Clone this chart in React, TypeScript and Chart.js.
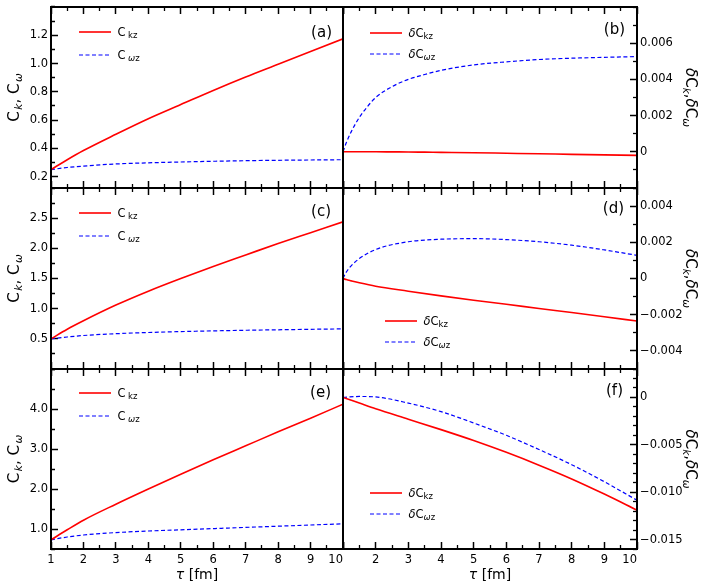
import React, { useEffect, useRef } from "react";
import { Chart, registerables } from "chart.js";
Chart.register(...registerables);

// ---------------- data ----------------
const TAU = [1, 1.5, 2, 3, 4, 5, 6, 7, 8, 9, 10];
const TAU_B = [1, 1.1, 1.25, 1.5, 1.75, 2, 2.5, 3, 3.5, 4, 5, 6, 7, 8, 9, 10];
const TAU_D = [1, 1.1, 1.25, 1.5, 2, 3, 4, 5, 6, 7, 8, 9, 10];

const A_CKZ = [0.25, 0.32, 0.385, 0.5, 0.61, 0.71, 0.81, 0.905, 0.995, 1.085, 1.175];
const A_CWZ = [0.25, 0.265, 0.275, 0.29, 0.298, 0.304, 0.309, 0.313, 0.316, 0.318, 0.32];

const B_DCKZ = [0, 0, 0, 0, 0, 0, -0.000005, -0.00001, -0.00002, -0.00003, -0.00005, -0.00008, -0.00011, -0.00014, -0.00017, -0.0002];
const B_DCWZ = [0, 0.0005, 0.0011, 0.0019, 0.0025, 0.003, 0.0036, 0.004, 0.00427, 0.0045, 0.0048, 0.00497, 0.0051, 0.00517, 0.00522, 0.00526];

const C_CKZ = [0.5, 0.66, 0.8, 1.06, 1.29, 1.5, 1.7, 1.89, 2.08, 2.26, 2.44];
const C_CWZ = [0.5, 0.53, 0.555, 0.585, 0.605, 0.62, 0.632, 0.642, 0.65, 0.658, 0.665];

const D_DCKZ = [0, -0.00006, -0.00013, -0.00024, -0.00043, -0.0007, -0.00096, -0.0012, -0.00142, -0.00166, -0.00188, -0.00211, -0.00235];
const D_DCWZ = [0, 0.00035, 0.0007, 0.0011, 0.0016, 0.00203, 0.00217, 0.0022, 0.00215, 0.00203, 0.00184, 0.00158, 0.00128];

const E_CKZ = [0.73, 0.98, 1.22, 1.62, 2.0, 2.37, 2.73, 3.08, 3.43, 3.77, 4.12];
const E_CWZ = [0.73, 0.8, 0.85, 0.91, 0.95, 0.98, 1.01, 1.04, 1.07, 1.1, 1.13];

const F_DCKZ = [0, -0.0006, -0.0012, -0.0023, -0.0034, -0.00455, -0.0058, -0.00715, -0.0086, -0.0102, -0.0119];
const F_DCWZ = [0, 0.0001, 0.00005, -0.0006, -0.0015, -0.0027, -0.004, -0.0055, -0.0071, -0.0089, -0.01085];

// ticks
const X_TICKS = [1, 2, 3, 4, 5, 6, 7, 8, 9, 10];
const X_LABELS_LEFT = ["1", "2", "3", "4", "5", "6", "7", "8", "9", "10    "];
const X_LABELS_RIGHT = ["", "2", "3", "4", "5", "6", "7", "8", "9", "10    "];

const A_TICKS = [0.2, 0.4, 0.6, 0.8, 1.0, 1.2];
const A_LABELS = ["0.2", "0.4", "0.6", "0.8", "1.0", "1.2"];
const B_TICKS = [0, 0.002, 0.004, 0.006];
const B_LABELS = ["0", "0.002", "0.004", "0.006"];
const C_TICKS = [0.5, 1.0, 1.5, 2.0, 2.5];
const C_LABELS = ["0.5", "1.0", "1.5", "2.0", "2.5"];
const D_TICKS = [-0.004, -0.002, 0, 0.002, 0.004];
const D_LABELS = ["\u22120.004", "\u22120.002", "0", "0.002", "0.004"];
const E_TICKS = [1, 2, 3, 4];
const E_LABELS = ["1.0", "2.0", "3.0", "4.0"];
const F_TICKS = [-0.015, -0.01, -0.005, 0];
const F_LABELS = ["\u22120.015", "\u22120.010", "\u22120.005", "0"];

// ---------------- layout / style ----------------
const W = 702;
const H = 584;
const XAXIS_H = 25;
const FONT = "'DejaVu Sans', Verdana, sans-serif";
const RED = "#ff0000";
const BLUE = "#0000ff";
const TICK_LEN = -7; // negative: ticks point into the plot
const DASH_MINOR_FROM_EDGE = [4, 100];
const DASH_MINOR_TO_EDGE = [0, 3, 4, 100];

type Seg = { t: string; size: number; italic?: boolean; dy?: number; gap?: number };

type Panel = {
  tag: string;
  side: "left" | "right";
  left: number; right: number; top: number; bottom: number;
  xs: number[]; red: number[]; blue: number[];
  yMin: number; yMax: number; yTicks: number[]; yLabels: string[]; yMinor: number;
  xLabels: string[] | null;
  delta: boolean;
  legend: { x: number; y1: number; y2: number };
  tagPos: { x: number; y: number };
};

const ROWS = [7, 188, 369, 549];
const COLS = [51, 343, 637];

const PANELS: Panel[] = [
  { tag: "(a)", side: "left", left: COLS[0], right: COLS[1], top: ROWS[0], bottom: ROWS[1], xs: TAU, red: A_CKZ, blue: A_CWZ,
    yMin: 0.12, yMax: 1.4, yTicks: A_TICKS, yLabels: A_LABELS, yMinor: 0.1, xLabels: null, delta: false,
    legend: { x: 79, y1: 32, y2: 55 }, tagPos: { x: 332, y: 37 } },
  { tag: "(b)", side: "right", left: COLS[1], right: COLS[2], top: ROWS[0], bottom: ROWS[1], xs: TAU_B, red: B_DCKZ, blue: B_DCWZ,
    yMin: -0.002, yMax: 0.008, yTicks: B_TICKS, yLabels: B_LABELS, yMinor: 0.001, xLabels: null, delta: true,
    legend: { x: 370, y1: 33, y2: 54 }, tagPos: { x: 625, y: 34 } },
  { tag: "(c)", side: "left", left: COLS[0], right: COLS[1], top: ROWS[1], bottom: ROWS[2], xs: TAU, red: C_CKZ, blue: C_CWZ,
    yMin: 0, yMax: 3, yTicks: C_TICKS, yLabels: C_LABELS, yMinor: 0.25, xLabels: null, delta: false,
    legend: { x: 79, y1: 213, y2: 236 }, tagPos: { x: 331, y: 216 } },
  { tag: "(d)", side: "right", left: COLS[1], right: COLS[2], top: ROWS[1], bottom: ROWS[2], xs: TAU_D, red: D_DCKZ, blue: D_DCWZ,
    yMin: -0.005, yMax: 0.005, yTicks: D_TICKS, yLabels: D_LABELS, yMinor: 0.001, xLabels: null, delta: true,
    legend: { x: 385, y1: 321, y2: 342 }, tagPos: { x: 624, y: 213 } },
  { tag: "(e)", side: "left", left: COLS[0], right: COLS[1], top: ROWS[2], bottom: ROWS[3], xs: TAU, red: E_CKZ, blue: E_CWZ,
    yMin: 0.5, yMax: 5, yTicks: E_TICKS, yLabels: E_LABELS, yMinor: 0.5, xLabels: X_LABELS_LEFT, delta: false,
    legend: { x: 79, y1: 393, y2: 416 }, tagPos: { x: 331, y: 397 } },
  { tag: "(f)", side: "right", left: COLS[1], right: COLS[2], top: ROWS[2], bottom: ROWS[3], xs: TAU, red: F_DCKZ, blue: F_DCWZ,
    yMin: -0.016, yMax: 0.003, yTicks: F_TICKS, yLabels: F_LABELS, yMinor: 0.001, xLabels: X_LABELS_RIGHT, delta: true,
    legend: { x: 370, y1: 493, y2: 514 }, tagPos: { x: 623, y: 395 } },
];

function fontOf(s: Seg) {
  return `${s.italic ? "italic " : ""}${s.size}px ${FONT}`;
}

function drawRich(ctx: CanvasRenderingContext2D, segs: Seg[], x: number, y: number, rot: number, align: "left" | "center" | "right") {
  ctx.save();
  ctx.translate(x, y);
  ctx.rotate(rot);
  ctx.textBaseline = "alphabetic";
  ctx.textAlign = "left";
  ctx.fillStyle = "#000";
  let total = 0;
  const ws = segs.map((s) => {
    ctx.font = fontOf(s);
    const w = ctx.measureText(s.t).width + (s.gap || 0);
    total += w;
    return w;
  });
  let cx = align === "left" ? 0 : align === "center" ? -total / 2 : -total;
  segs.forEach((s, i) => {
    ctx.font = fontOf(s);
    ctx.fillText(s.t, cx + (s.gap || 0), s.dy || 0);
    cx += ws[i];
  });
  ctx.restore();
}

function minorValues(min: number, max: number, step: number, majors: number[]) {
  const out: number[] = [];
  const k0 = Math.ceil(min / step - 1e-9);
  const k1 = Math.floor(max / step + 1e-9);
  for (let k = k0; k <= k1; k++) {
    const v = k * step;
    if (!majors.some((m) => Math.abs(m - v) < step * 1e-3)) out.push(v);
  }
  return out;
}

function majorIndex(majors: number[], v: number) {
  return majors.findIndex((m) => Math.abs(m - v) < 1e-9);
}

const X_ALL = [...X_TICKS, ...minorValues(1, 10, 0.5, X_TICKS)].sort((a, b) => a - b);

function legendSegs(delta: boolean, omega: boolean): Seg[] {
  const sub: Seg[] = omega
    ? [{ t: "\u03c9", size: 8.5, italic: true, dy: 1.5, gap: delta ? 0 : 2.5 }, { t: "z", size: 8.5, dy: 1.5 }]
    : [{ t: "kz", size: 8.5, dy: 1.5, gap: delta ? 0 : 2.5 }];
  const head: Seg[] = delta ? [{ t: "\u03b4", size: 11.5, italic: true }, { t: "C", size: 11.5 }] : [{ t: "C", size: 11.5 }];
  return [...head, ...sub];
}

const LEFT_TITLE: Seg[] = [
  { t: "C", size: 15 },
  { t: "k", size: 10.5, italic: true, dy: 3.5, gap: 1.5 },
  { t: ", ", size: 15 },
  { t: "C", size: 15 },
  { t: "\u03c9", size: 10.5, italic: true, dy: 3.5, gap: 1.5 },
];
const RIGHT_TITLE: Seg[] = [
  { t: "\u03b4", size: 15, italic: true },
  { t: "C", size: 15 },
  { t: "k", size: 10.5, italic: true, dy: 3.5 },
  { t: ",", size: 15 },
  { t: "\u03b4", size: 15, italic: true },
  { t: "C", size: 15 },
  { t: "\u03c9", size: 10.5, italic: true, dy: 3.5 },
];
const X_TITLE: Seg[] = [
  { t: "\u03c4", size: 14, italic: true },
  { t: " [fm]", size: 14 },
];

function decor(p: Panel) {
  return {
    id: "panelDecor",
    afterDraw(chart: any) {
      const ctx: CanvasRenderingContext2D = chart.ctx;
      const ca = chart.chartArea;
      ctx.save();
      ctx.setLineDash([]);
      // frame
      ctx.strokeStyle = "#000";
      ctx.lineWidth = 2;
      ctx.strokeRect(ca.left, ca.top, ca.right - ca.left, ca.bottom - ca.top);

      // legend
      const L = p.legend;
      ctx.lineWidth = 1.6;
      ctx.strokeStyle = RED;
      ctx.beginPath();
      ctx.moveTo(L.x, L.y1);
      ctx.lineTo(L.x + 32, L.y1);
      ctx.stroke();
      ctx.lineWidth = 1.2;
      ctx.strokeStyle = BLUE;
      ctx.setLineDash([4, 2.5]);
      ctx.beginPath();
      ctx.moveTo(L.x, L.y2);
      ctx.lineTo(L.x + 32, L.y2);
      ctx.stroke();
      ctx.setLineDash([]);
      drawRich(ctx, legendSegs(p.delta, false), L.x + 38.5, L.y1 + 4.3, 0, "left");
      drawRich(ctx, legendSegs(p.delta, true), L.x + 38.5, L.y2 + 4.3, 0, "left");

      // panel tag
      drawRich(ctx, [{ t: p.tag, size: 15 }], p.tagPos.x, p.tagPos.y, 0, "right");

      // axis titles
      const midY = (ca.top + ca.bottom) / 2;
      if (p.side === "left") drawRich(ctx, LEFT_TITLE, 18.5, midY, -Math.PI / 2, "center");
      else drawRich(ctx, RIGHT_TITLE, 686, midY, Math.PI / 2, "center");
      if (p.xLabels) drawRich(ctx, X_TITLE, (ca.left + ca.right) / 2, 579, 0, "center");
      ctx.restore();
    },
  };
}

function tickGrid(majors: number[], minorDash: number[]) {
  const isMajor = (c: any) => !!c && !!c.tick && majorIndex(majors, c.tick.value) >= 0;
  return {
    display: true,
    drawOnChartArea: false,
    drawTicks: true,
    tickLength: TICK_LEN,
    color: "#000",
    tickColor: "#000",
    tickWidth: (c: any) => (isMajor(c) ? 1.5 : 1.3),
    tickBorderDash: (c: any) => (isMajor(c) ? [] : minorDash),
  };
}

function makeConfig(p: Panel): any {
  const xLabels = p.xLabels;
  const yAll = [...p.yTicks, ...minorValues(p.yMin, p.yMax, p.yMinor, p.yTicks)].sort((a, b) => a - b);
  const zeroPad = (s: any) => {
    s.paddingLeft = 0;
    s.paddingRight = 0;
    s.paddingTop = 0;
    s.paddingBottom = 0;
  };
  return {
    type: "line",
    data: {
      datasets: [
        {
          label: p.delta ? "\u03b4Ckz" : "Ckz",
          data: p.xs.map((x, i) => ({ x, y: p.red[i] })),
          borderColor: RED,
          borderWidth: 1.6,
          pointRadius: 0,
          fill: false,
          cubicInterpolationMode: "monotone",
          xAxisID: "x",
          yAxisID: "y",
        },
        {
          label: p.delta ? "\u03b4C\u03c9z" : "C\u03c9z",
          data: p.xs.map((x, i) => ({ x, y: p.blue[i] })),
          borderColor: BLUE,
          borderWidth: 1.2,
          borderDash: [4, 2.5],
          pointRadius: 0,
          fill: false,
          cubicInterpolationMode: "monotone",
          xAxisID: "x",
          yAxisID: "y",
        },
      ],
    },
    options: {
      responsive: false,
      animation: false,
      events: [],
      layout: {
        autoPadding: false,
        padding: {
          left: p.side === "left" ? 0 : p.left,
          right: p.side === "left" ? W - p.right : 0,
          top: p.top,
          bottom: H - p.bottom - XAXIS_H,
        },
      },
      plugins: { legend: { display: false }, tooltip: { enabled: false } },
      scales: {
        x: {
          type: "linear",
          position: "bottom",
          min: 1,
          max: 10,
          afterBuildTicks: (s: any) => {
            s.ticks = X_ALL.map((v) => ({ value: v }));
          },
          afterFit: (s: any) => {
            s.height = XAXIS_H;
            zeroPad(s);
          },
          grid: tickGrid(X_TICKS, DASH_MINOR_FROM_EDGE),
          border: { display: false },
          ticks: {
            autoSkip: false,
            maxRotation: 0,
            minRotation: 0,
            padding: 4 - TICK_LEN,
            color: xLabels ? "#000" : "rgba(0,0,0,0)",
            font: { family: FONT, size: 11.5 },
            callback: (v: any) => {
              const k = majorIndex(X_TICKS, Number(v));
              return xLabels && k >= 0 ? xLabels[k] : "";
            },
          },
        },
        xTop: {
          type: "linear",
          position: "top",
          min: 1,
          max: 10,
          afterBuildTicks: (s: any) => {
            s.ticks = X_ALL.map((v) => ({ value: v }));
          },
          afterFit: (s: any) => {
            s.height = 0;
            zeroPad(s);
          },
          grid: tickGrid(X_TICKS, DASH_MINOR_TO_EDGE),
          border: { display: false },
          ticks: { display: false, autoSkip: false, maxRotation: 0, minRotation: 0 },
        },
        y: {
          type: "linear",
          position: p.side,
          min: p.yMin,
          max: p.yMax,
          afterBuildTicks: (s: any) => {
            s.ticks = yAll.map((v) => ({ value: v }));
          },
          afterFit: (s: any) => {
            s.width = p.side === "left" ? p.left : W - p.right;
            zeroPad(s);
          },
          grid: tickGrid(p.yTicks, p.side === "left" ? DASH_MINOR_TO_EDGE : DASH_MINOR_FROM_EDGE),
          border: { display: false },
          ticks: {
            autoSkip: false,
            padding: 3 - TICK_LEN,
            color: "#000",
            font: { family: FONT, size: 11.5 },
            callback: (v: any) => {
              const k = majorIndex(p.yTicks, Number(v));
              return k >= 0 ? p.yLabels[k] : "";
            },
          },
        },
      },
    },
    plugins: [decor(p)],
  };
}

function PanelChart({ p }: { p: Panel }) {
  const ref = useRef<HTMLCanvasElement | null>(null);
  useEffect(() => {
    if (!ref.current) return;
    const chart = new Chart(ref.current, makeConfig(p));
    return () => chart.destroy();
  }, [p]);
  return (
    <canvas
      ref={ref}
      width={W}
      height={H}
      style={{ position: "absolute", left: 0, top: 0, width: W, height: H }}
    />
  );
}

export default function App() {
  return (
    <div style={{ position: "fixed", left: 0, top: 0, width: W, height: H, background: "#fff", overflow: "hidden" }}>
      {PANELS.map((p) => (
        <PanelChart key={p.tag} p={p} />
      ))}
    </div>
  );
}
